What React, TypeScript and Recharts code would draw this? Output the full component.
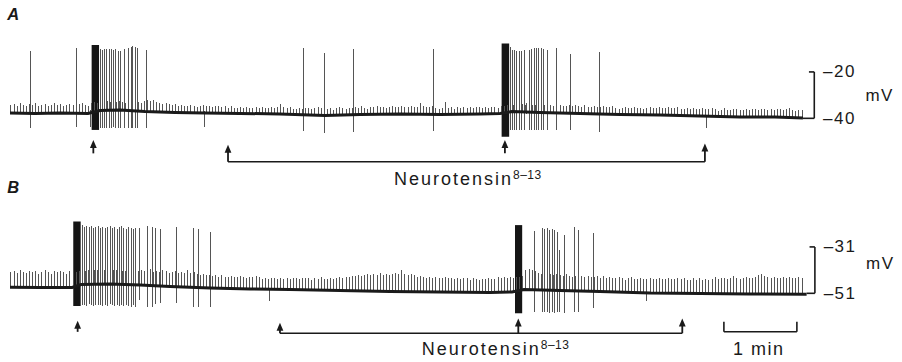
import { ComposedChart, Line, XAxis, YAxis, ReferenceLine, ReferenceArea, ReferenceDot } from "recharts";

// time in s (trace start = 0), potential in mV
const X_DOMAIN: [number, number] = [-8.22, 733.2];
const Y_DOMAIN_A: [number, number] = [-75.2, 11.0];
const Y_DOMAIN_B: [number, number] = [-80.6, -1.3];

// resting potential, [t, mV]
const BASE_A = [
  [0, -37.7], [20.5, -37.9], [41.1, -37.7], [64.1, -37.9], [74.0, -36.6], [90.4, -36.4],
  [111.0, -37.1], [135.6, -37.5], [160.3, -37.7], [189.0, -37.9], [221.9, -38.1], [258.9, -38.8],
  [287.7, -38.4], [320.6, -38.1], [353.4, -38.4], [386.3, -38.1], [402.8, -37.9], [412.6, -37.1],
  [435.6, -37.5], [468.5, -37.9], [501.4, -38.4], [534.3, -38.6], [567.2, -39.0], [600.0, -39.4],
  [628.8, -39.4], [651.8, -39.9],
];
const BASE_B = [
  [0, -48.4], [24.7, -48.5], [51.0, -48.5], [58.4, -47.2], [82.2, -47.0], [106.9, -47.4],
  [131.5, -48.1], [164.4, -48.7], [197.3, -49.1], [230.1, -49.4], [271.2, -49.8], [312.4, -50.2],
  [353.4, -50.4], [394.5, -50.7], [412.6, -50.4], [422.5, -49.4], [452.1, -49.8], [484.9, -50.2],
  [526.1, -50.9], [567.2, -51.1], [608.3, -51.3], [654.8, -51.4],
];

// action potentials, [t, peak mV, trough mV]
const SPIKES_A = [
  [17.0, -10.9, -44.2], [54.8, -9.7, -43.8], [65.8, -36.5, -43.6],
  [74.0, -10.3, -44.0], [75.9, -10.6, -44.0], [77.8, -10.3, -44.1], [79.7, -10.1, -44.0],
  [81.6, -10.3, -44.1], [83.6, -10.1, -44.0], [85.2, -10.6, -43.9], [86.9, -10.3, -44.0],
  [88.8, -10.9, -44.1], [90.7, -10.9, -44.0], [94.3, -10.3, -44.0], [97.8, -9.8, -44.1],
  [99.5, -9.4, -44.0], [101.1, -8.8, -44.1], [102.8, -9.1, -44.0], [104.4, -9.8, -44.0],
  [112.4, -10.6, -44.2], [159.7, -37.0, -43.9],
  [241.1, -9.8, -45.3], [258.9, -11.7, -46.2], [282.7, -10.3, -45.8], [347.9, -10.3, -45.3],
  [411.0, -9.4, -45.0], [412.9, -10.6, -45.0], [414.8, -10.6, -45.1], [416.7, -10.9, -45.0],
  [418.6, -10.9, -45.0], [420.6, -10.9, -45.1], [422.5, -10.6, -45.0], [424.9, -33.5, -38.0],
  [427.1, -10.6, -45.0], [429.0, -10.3, -45.0], [430.9, -9.8, -45.0], [432.9, -9.8, -45.1],
  [434.8, -9.8, -45.0], [436.7, -9.8, -45.0], [438.6, -10.3, -45.0], [441.4, -10.6, -45.1],
  [449.3, -9.8, -45.0], [461.1, -12.3, -45.0], [484.9, -11.3, -45.8], [572.6, -38.8, -44.2],
];
const SPIKES_B = [
  [59.3, -21.6, -56.2], [61.0, -22.3, -56.0], [63.1, -22.0, -56.4], [65.0, -22.6, -55.8],
  [66.7, -22.2, -56.1], [68.9, -22.9, -56.3], [70.6, -22.4, -55.9], [72.7, -22.0, -56.2],
  [74.6, -22.7, -56.0], [76.3, -22.3, -56.4], [78.5, -23.0, -56.0], [80.2, -22.5, -56.3],
  [82.3, -22.1, -55.8], [84.0, -22.8, -56.2], [86.2, -22.4, -56.5], [88.0, -23.1, -56.0],
  [89.8, -22.6, -56.3], [92.0, -22.2, -56.1], [93.6, -22.9, -56.6], [95.7, -23.3, -56.0],
  [97.5, -22.6, -56.4], [99.6, -23.0, -56.8], [101.3, -23.4, -56.2], [103.4, -22.8, -56.7],
  [106.8, -23.0, -53.9], [113.2, -22.0, -56.8], [117.3, -22.6, -56.8], [119.2, -23.0, -55.6],
  [123.3, -23.4, -55.3], [137.0, -22.6, -55.1], [151.2, -23.0, -56.8], [155.3, -23.4, -56.8],
  [165.0, -24.4, -56.8], [213.1, -49.0, -54.2],
  [431.5, -24.1, -58.9], [437.8, -23.0, -58.9], [439.7, -23.4, -59.2], [441.6, -23.0, -59.0],
  [443.8, -23.7, -59.3], [445.7, -23.4, -59.0], [447.9, -23.7, -59.4], [449.9, -24.4, -59.2],
  [452.0, -32.3, -59.0], [455.8, -25.9, -59.6], [463.6, -22.6, -58.9], [467.4, -23.7, -58.9],
  [479.4, -25.1, -57.5], [523.5, -50.5, -54.3],
];

// fused high-frequency discharge, [t start, t end, top mV, bottom mV]
const BURSTS_A = [[67.1, 73.2, -8.4, -45.0], [404.1, 410.3, -7.7, -47.9]];
const BURSTS_B = [[52.0, 58.1, -20.1, -56.5], [415.1, 421.0, -21.6, -59.6]];

// small potentials riding on the baseline, amplitude mV, one every SMALL_STEP s
const SMALL_T0 = 0.8;
const SMALL_STEP = 2.55;
const SMALL_A = [
  3.5, 4, 3, 4.5, 3.5, 3, 4, 3.5, 4.5, 3, 3.5, 4, 3, 3.5, 4.5, 3.5,
  4, 3, 3.5, 4, 3.5, 3, 4, 4.5, 3.5, 3, 4, 4, 3.5, 4, 3.5, 4,
  3.5, 4, 3.5, 4, 3.5, 3, 3.5, 3, 3.5, 4, 3.5, 4.5, 5, 4.5, 5, 4.5,
  4, 3.5, 4, 3.5, 3, 3.5, 3, 3.5, 3, 3, 3.5, 3, 2.5, 3, 3.5, 3,
  3, 2.5, 3, 3, 2.5, 3, 2.5, 3, 2.5, 2.5, 3, 2.5, 3, 2.5, 2.5, 3,
  2.5, 3, 2.5, 2.5, 3, 2.5, 3, 4.5, 3, 2.5, 3, 2.5, 2.5, 3, 2.5, 3,
  3, 2.5, 3, 3.5, 3, 2.5, 3, 3, 2.5, 3, 3.5, 3, 2.5, 3, 3, 3.5,
  3, 3.5, 3, 2.5, 3, 3, 3.5, 3, 3, 2.5, 3, 3.5, 3, 3, 3.5, 3,
  3, 3.5, 3, 3, 5, 3.5, 3, 3, 3.5, 3, 2.5, 3, 5.5, 3, 3, 2.5,
  3, 2.5, 3, 2.5, 3, 2.5, 3, 3, 2.5, 3, 2.5, 3, 3, 2.5, 3, 3,
  3, 3.5, 3, 3.5, 3, 3.5, 3, 3.5, 3, 3, 3.5, 3, 3.5, 3, 3.5, 3,
  3, 3.5, 3, 3, 3.5, 3, 3.5, 3, 3, 3.5, 3, 3, 3.5, 3, 3, 3.5,
  3, 3, 3.5, 3, 2.5, 3, 3.5, 3, 3, 3.5, 3, 3, 2.5, 3, 3.5, 3,
  3, 3.5, 3, 3, 3.5, 3, 3, 3.5, 3, 3, 3.5, 3, 3.5, 3, 3, 3.5,
  3, 3, 3.5, 3, 2.5, 3, 3.5, 3, 3, 3.5, 3.5, 3, 3, 3.5, 3, 3.5,
  3.5, 3, 3.5, 3.5, 3, 3.5, 3, 3.5, 3.5, 3, 3.5, 4, 3.5, 3, 3.5, 3.5,
];
const SMALL_B = [
  6.5, 7, 6, 7.5, 6.5, 6, 7, 6.5, 7, 6, 6.5, 7.5, 6.5, 6, 7, 6.5,
  7, 6.5, 6, 7, 6, 6, 6, 6, 6, 6, 6, 6, 6, 6, 6, 6,
  6, 6, 6, 6, 6, 6, 6.5, 6, 7, 6, 6.5, 6, 6.5, 7, 6, 6.5,
  6, 7, 6.5, 6, 6.5, 7, 6, 6.5, 6, 7.5, 6, 6.5, 6, 5.5, 6, 5.5,
  5.5, 5, 5.5, 5, 5.5, 5, 5, 5.5, 5, 5, 5.5, 5, 4.5, 5, 5, 5.5,
  5, 4.5, 5, 4.5, 5, 5, 4.5, 5, 4.5, 5, 4.5, 5, 5, 4.5, 5, 5,
  5, 4.5, 5, 5, 5.5, 5, 5, 5.5, 5, 5.5, 6, 5.5, 6, 6, 6.5, 6.5,
  7, 6.5, 7, 7.5, 7, 7.5, 7, 8, 7, 7.5, 7, 7.5, 8, 7.5, 9.5, 7.5,
  7, 7.5, 7, 6.5, 7, 6.5, 6, 6.5, 6, 6.5, 6, 6, 6.5, 6, 6, 5.5,
  6, 5.5, 6, 6, 5.5, 6, 6, 5.5, 6, 6, 6.5, 6, 6, 6.5, 6, 6.5,
  6, 6.5, 6, 6, 6, 6, 8.5, 9, 8.5, 8, 7.5, 7, 7, 6.5, 7, 6.5,
  7, 6.5, 6.5, 7, 6.5, 6, 6.5, 6, 6.5, 6, 6.5, 6, 6, 6.5, 6, 6.5,
  6, 6.5, 6, 6, 6.5, 6, 5.5, 6, 6.5, 6, 6, 6.5, 6, 6, 6.5, 6,
  6, 6.5, 6, 6, 6.5, 6, 6, 6.5, 6, 6.5, 6, 6, 6.5, 6, 6.5, 6,
  6.5, 6, 6.5, 7, 6.5, 7, 7, 6.5, 7, 7.5, 7, 6.5, 7, 7.5, 7, 7,
  7.5, 8, 8.5, 8, 7.5, 7, 7.5, 7, 7, 7.5, 7, 7.5, 7, 7, 7.5, 7,
];

// stimulus arrows, [t, tip mV, foot mV]
const STIM_A = [[68.5, -49.3, -55.1], [406.8, -49.3, -55.1]];
const STIM_B = [[55.6, -62.8, -67.6], [417.8, -61.8, -68.2]];

// drug bracket, [t start, t end, line mV, left tip mV, right tip mV]
const DRUG_A = [179.2, 571.2, -58.7, -51.4, -50.8];
const DRUG_B = [221.9, 552.6, -68.2, -63.7, -61.8];

// calibration: [bar top mV, bar bottom mV] and labels
const CAL_A = [-20, -40];
const CAL_B = [-31, -51];
const CAL_LABELS_A = ["–20", "–40"];
const CAL_LABELS_B = ["–31", "–51"];

const FONT = '"Liberation Sans", Arial, Helvetica, sans-serif';
const INK = "#1a1a1a";

function baseAt(base: number[][], t: number) {
  for (let i = 1; i < base.length; i++) {
    if (t <= base[i][0]) {
      const [t0, v0] = base[i - 1];
      const [t1, v1] = base[i];
      return v0 + ((v1 - v0) * (t - t0)) / (t1 - t0);
    }
  }
  return base[base.length - 1][1];
}

function spikePoints(spikes: number[][], small: number[], base: number[][]) {
  const pts: { t: number; v: number | null }[] = [];
  small.forEach((a, i) => {
    const t = SMALL_T0 + i * SMALL_STEP;
    const b = baseAt(base, t);
    pts.push({ t, v: b }, { t, v: b + a }, { t, v: null });
  });
  spikes.forEach(([t, top, bot]) => {
    pts.push({ t, v: bot }, { t, v: top }, { t, v: null });
  });
  return pts;
}

const arrowShape = (p: any) => (
  <g>
    <line x1={p.x1} y1={p.y1} x2={p.x2} y2={p.y2 + 6} stroke={INK} strokeWidth={1.8} />
    <path d={`M${p.x2},${p.y2} L${p.x2 - 3.4},${p.y2 + 8} L${p.x2 + 3.4},${p.y2 + 8} Z`} fill={INK} />
  </g>
);

const label = (text: string, size: number, opts: any = {}) => (p: any) => (
  <text x={p.cx} y={p.cy} fontFamily={FONT} fontSize={size} fill={INK} letterSpacing={1.5} {...opts}>
    {text}
  </text>
);

const drugLabel = (p: any) => (
  <text x={p.cx} y={p.cy} fontFamily={FONT} fontSize={18} fill={INK} letterSpacing={2}>
    Neurotensin
    <tspan fontSize={12} dy={-6} letterSpacing={0.5}>8–13</tspan>
  </text>
);

interface PanelProps {
  top: number;
  height: number;
  yDomain: [number, number];
  base: number[][];
  spikes: number[][];
  bursts: number[][];
  small: number[];
  stims: number[][];
  drug: number[];
  cal: number[];
  calLabels: string[];
  calX: number;
  mvAt: number;
  letter: string;
  letterY: number;
  drugText: [number, number];
  minute?: boolean;
}

function Panel(props: PanelProps) {
  const { yDomain, base, spikes, bursts, small, stims, drug, cal, calX } = props;
  const traceEnd = base[base.length - 1][0];
  return (
    <div style={{ position: "absolute", left: 0, top: props.top }}>
      <ComposedChart width={902} height={props.height} margin={{ top: 0, right: 0, bottom: 0, left: 0 }}>
        <XAxis type="number" dataKey="t" domain={X_DOMAIN} allowDataOverflow hide />
        <YAxis type="number" domain={yDomain} allowDataOverflow hide />
        <Line
          data={spikePoints(spikes, small, base)}
          dataKey="v"
          type="linear"
          stroke="#555"
          strokeWidth={1}
          shapeRendering="crispEdges"
          dot={false}
          activeDot={false}
          isAnimationActive={false}
        />
        <Line
          data={base.map(([t, v]) => ({ t, v }))}
          dataKey="v"
          type="linear"
          stroke={INK}
          strokeWidth={3}
          dot={false}
          activeDot={false}
          isAnimationActive={false}
        />
        {bursts.map(([t1, t2, hi, lo], i) => (
          <ReferenceArea key={"b" + i} x1={t1} x2={t2} y1={lo} y2={hi} fill="#151515" fillOpacity={1} stroke="none" />
        ))}
        {stims.map(([t, tip, foot], i) => (
          <ReferenceLine key={"s" + i} segment={[{ x: t, y: foot }, { x: t, y: tip }]} shape={arrowShape} />
        ))}
        <ReferenceLine segment={[{ x: drug[0], y: drug[2] }, { x: drug[1], y: drug[2] }]} stroke={INK} strokeWidth={1.6} />
        <ReferenceLine segment={[{ x: drug[0], y: drug[2] }, { x: drug[0], y: drug[3] }]} shape={arrowShape} />
        <ReferenceLine segment={[{ x: drug[1], y: drug[2] }, { x: drug[1], y: drug[4] }]} shape={arrowShape} />
        <ReferenceDot x={props.drugText[0]} y={props.drugText[1]} r={0} shape={drugLabel} />

        {/* mV calibration */}
        <ReferenceLine segment={[{ x: calX, y: cal[0] }, { x: calX, y: cal[1] }]} stroke={INK} strokeWidth={1.6} />
        <ReferenceLine segment={[{ x: calX - 4.4, y: cal[0] }, { x: calX, y: cal[0] }]} stroke={INK} strokeWidth={1.6} />
        <ReferenceLine segment={[{ x: Math.min(calX - 4.4, traceEnd), y: cal[1] }, { x: calX, y: cal[1] }]} stroke={INK} strokeWidth={1.6} />
        <ReferenceDot x={calX + 7.2} y={cal[0]} r={0} shape={label(props.calLabels[0], 17, { dominantBaseline: "central" })} />
        <ReferenceDot x={calX + 7.2} y={cal[1]} r={0} shape={label(props.calLabels[1], 17, { dominantBaseline: "central" })} />
        <ReferenceDot x={calX + 42} y={props.mvAt} r={0} shape={label("mV", 17, { dominantBaseline: "central" })} />

        {props.minute && (
          <>
            <ReferenceLine segment={[{ x: 586.8, y: -67.55 }, { x: 646.8, y: -67.55 }]} stroke={INK} strokeWidth={1.6} />
            <ReferenceLine segment={[{ x: 586.8, y: -67.55 }, { x: 586.8, y: -63.2 }]} stroke={INK} strokeWidth={1.6} />
            <ReferenceLine segment={[{ x: 646.8, y: -67.55 }, { x: 646.8, y: -63.2 }]} stroke={INK} strokeWidth={1.6} />
            <ReferenceDot x={594.3} y={-77.6} r={0} shape={label("1 min", 18)} />
          </>
        )}

        <ReferenceDot x={-2.2} y={props.letterY} r={0} shape={label(props.letter, 16.5, { fontStyle: "italic", fontWeight: "bold", letterSpacing: 0 })} />
      </ComposedChart>
    </div>
  );
}

export default function App() {
  return (
    <div style={{ position: "absolute", left: 0, top: 0, width: 902, height: 362, background: "#fff", overflow: "hidden" }}>
      <Panel
        top={0}
        height={200}
        yDomain={Y_DOMAIN_A}
        base={BASE_A}
        spikes={SPIKES_A}
        bursts={BURSTS_A}
        small={SMALL_A}
        stims={STIM_A}
        drug={DRUG_A}
        cal={CAL_A}
        calLabels={CAL_LABELS_A}
        calX={661.1}
        mvAt={-30}
        letter="A"
        letterY={2.4}
        drugText={[315.6, -68.75]}
      />
      <Panel
        top={178}
        height={184}
        yDomain={Y_DOMAIN_B}
        base={BASE_B}
        spikes={SPIKES_B}
        bursts={BURSTS_B}
        small={SMALL_B}
        stims={STIM_B}
        drug={DRUG_B}
        cal={CAL_B}
        calLabels={CAL_LABELS_B}
        calX={661.6}
        mvAt={-38.1}
        letter="B"
        letterY={-7.6}
        drugText={[338.4, -77.6]}
        minute
      />
    </div>
  );
}
